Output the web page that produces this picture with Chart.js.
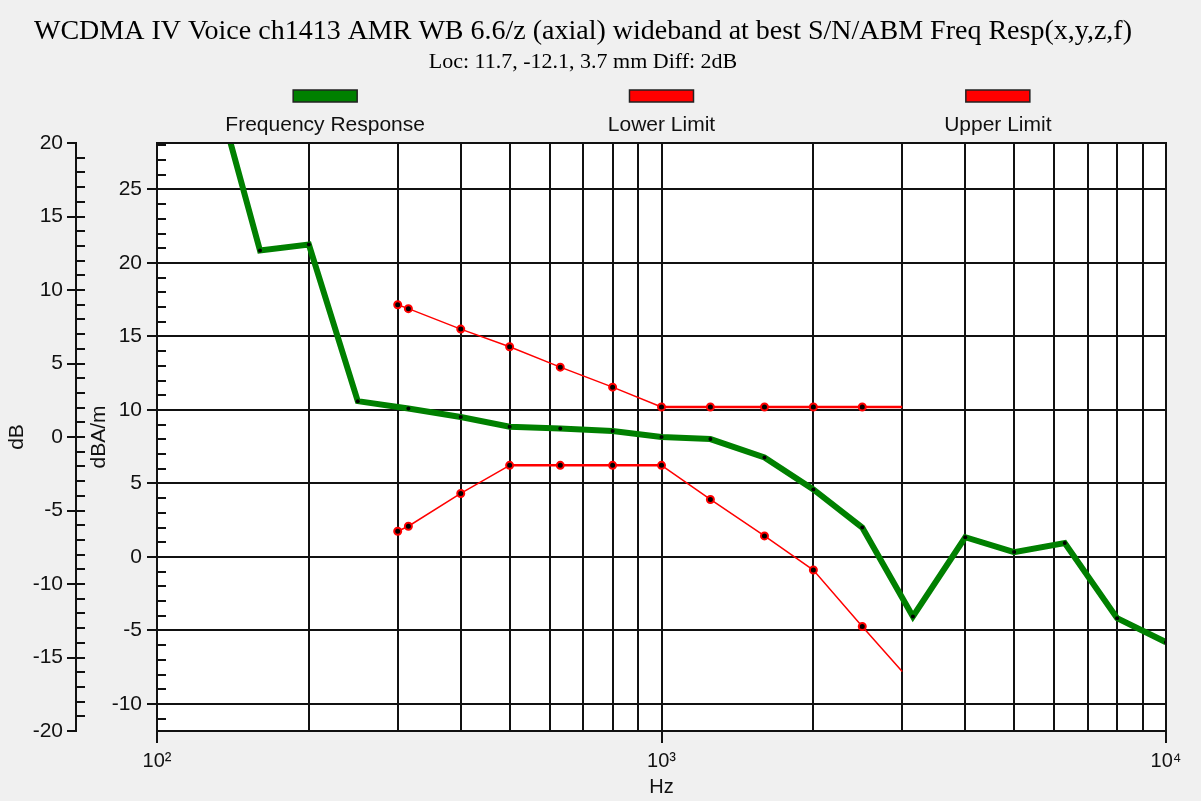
<!DOCTYPE html>
<html>
<head>
<meta charset="utf-8">
<title>WCDMA IV Voice ch1413 - Freq Resp</title>
<script src="https://cdn.jsdelivr.net/npm/chart.js@4.4.1/dist/chart.umd.min.js"></script>
<style>
  html, body { margin: 0; padding: 0; background: #f0f0f0; }
  #wrap { width: 1201px; height: 801px; position: relative; }
</style>
</head>
<body>
<div id="wrap"><canvas id="freqChart"></canvas></div>
<script>
// --- data (values on the dBA/m scale) ---
const responseHz = [125, 160, 200, 250, 315, 400, 500, 630, 800, 1000, 1250, 1600, 2000, 2500, 3150, 4000, 5000, 6300, 8000, 10000];
const responseDb = [34.3, 20.85, 21.25, 10.6, 10.1, 9.52, 8.86, 8.73, 8.57, 8.16, 8.02, 6.77, 4.59, 2.0, -4.05, 1.34, 0.33, 0.95, -4.17, -5.8];

const limitHz = [300, 315, 400, 500, 630, 800, 1000, 1250, 1600, 2000, 2500, 3000];
const lowerLimit = [1.75, 2.09, 4.32, 6.23, 6.23, 6.23, 6.23, 3.91, 1.43, -0.89, -4.73, -7.8];
const upperLimit = [17.16, 16.89, 15.5, 14.3, 12.91, 11.55, 10.2, 10.2, 10.2, 10.2, 10.2, 10.2];

// axis ticks
const xGridHz = [100, 200, 300, 400, 500, 600, 700, 800, 900,
                 1000, 2000, 3000, 4000, 5000, 6000, 7000, 8000, 9000, 10000];
const xMajorHz = [100, 1000, 10000];
const xTickLabels = ['10²', '10³', '10⁴'];
const dbLabels = [-20, -15, -10, -5, 0, 5, 10, 15, 20];
const dbaLabels = [-10, -5, 0, 5, 10, 15, 20, 25];

const TXT = '#111';
const SANS = 'Liberation Sans';
const GRID = '#111';

function toPoints(xs, ys) {
    return xs.map((x, i) => ({ x: x, y: ys[i] }));
}

// steps of 1 between the bounds, labels only on the named list
function unitTicks(scale, from, to) {
    const t = [];
    for (let v = from; v <= to; v++) t.push({ value: v });
    scale.ticks = t;
}

const plotFrame = {
    id: 'plotFrame',
    beforeDraw(chart) {
        const { ctx, chartArea: a } = chart;
        ctx.save();
        ctx.fillStyle = '#fff';
        ctx.fillRect(a.left, a.top, a.right - a.left, a.bottom - a.top);
        ctx.restore();
    },
    afterDraw(chart) {
        const { ctx, chartArea: a, scales } = chart;
        ctx.save();
        ctx.strokeStyle = GRID;
        ctx.lineWidth = 2;
        ctx.strokeRect(a.left, a.top, a.right - a.left, a.bottom - a.top);

        // small ticks on the right side of both vertical axis lines
        ctx.beginPath();
        const outer = scales.yDb;
        for (let v = -19; v <= 19; v++) {
            const y = Math.round(outer.getPixelForValue(v));
            ctx.moveTo(outer.right, y);
            ctx.lineTo(outer.right + 9, y);
        }
        const inner = scales.y;
        for (let v = -11; v <= 28; v++) {
            const y = Math.round(inner.getPixelForValue(v));
            ctx.moveTo(a.left, y);
            ctx.lineTo(a.left + 9, y);
        }
        ctx.stroke();

        // legend: swatch above the label, one third of the plot each
        const w = a.right - a.left;
        chart.data.datasets.forEach((ds, i) => {
            const cx = a.left + w * (2 * i + 1) / 6;
            ctx.fillStyle = ds.borderColor;
            ctx.fillRect(cx - 32, 90, 64, 12);
            ctx.strokeStyle = '#222';
            ctx.lineWidth = 1.5;
            ctx.strokeRect(cx - 32, 90, 64, 12);
            ctx.fillStyle = TXT;
            ctx.font = '21px ' + SANS;
            ctx.textAlign = 'center';
            ctx.textBaseline = 'middle';
            ctx.fillText(ds.label, cx, 125);
        });
        ctx.restore();
    }
};

Chart.defaults.font.family = SANS;
Chart.defaults.color = TXT;

const flatThick = ctx => ctx.p0.parsed.y === ctx.p1.parsed.y ? 2.5 : 1.5;
const limitRadius = limitHz.map((f, i) => i === limitHz.length - 1 ? 0 : 3.5);

new Chart(document.getElementById('freqChart'), {
    type: 'line',
    data: {
        datasets: [
            {
                label: 'Frequency Response',
                data: toPoints(responseHz, responseDb),
                borderColor: '#008000',
                backgroundColor: '#008000',
                borderWidth: 6,
                pointRadius: 2,
                pointBackgroundColor: '#000',
                pointBorderColor: '#000',
                pointBorderWidth: 0
            },
            {
                label: 'Lower Limit',
                data: toPoints(limitHz, lowerLimit),
                borderColor: '#ff0000',
                backgroundColor: '#ff0000',
                borderWidth: 1.5,
                segment: { borderWidth: flatThick },
                pointRadius: limitRadius,
                pointBackgroundColor: '#000',
                pointBorderColor: '#ff0000',
                pointBorderWidth: 2
            },
            {
                label: 'Upper Limit',
                data: toPoints(limitHz, upperLimit),
                borderColor: '#ff0000',
                backgroundColor: '#ff0000',
                borderWidth: 1.5,
                segment: { borderWidth: flatThick },
                pointRadius: limitRadius,
                pointBackgroundColor: '#000',
                pointBorderColor: '#ff0000',
                pointBorderWidth: 2
            }
        ]
    },
    options: {
        responsive: true,
        maintainAspectRatio: false,
        animation: false,
        layout: { padding: { left: 0, right: 35, top: 0, bottom: 0 } },
        elements: { line: { tension: 0 } },
        plugins: {
            legend: { display: false },
            tooltip: { enabled: false },
            title: {
                display: true,
                text: 'WCDMA IV Voice ch1413 AMR WB 6.6/z (axial) wideband at best S/N/ABM Freq Resp(x,y,z,f)',
                font: { family: 'Liberation Serif', size: 28, weight: 'normal' },
                color: '#000',
                padding: { top: 15, bottom: 0 }
            },
            subtitle: {
                display: true,
                text: 'Loc: 11.7, -12.1, 3.7 mm Diff: 2dB',
                font: { family: 'Liberation Serif', size: 22, weight: 'normal' },
                color: '#000',
                padding: { top: 0.2, bottom: 67.8 }
            }
        },
        scales: {
            x: {
                type: 'logarithmic',
                position: 'bottom',
                min: 100,
                max: 10000,
                afterBuildTicks: s => { s.ticks = xGridHz.map(v => ({ value: v })); },
                afterFit: s => { s.height = 70; },
                ticks: {
                    autoSkip: false,
                    maxRotation: 0,
                    padding: 6,
                    font: { size: 20 },
                    callback: v => {
                        const k = xMajorHz.indexOf(v);
                        return k >= 0 ? xTickLabels[k] : '';
                    }
                },
                grid: {
                    color: GRID,
                    lineWidth: 2,
                    tickLength: 12,
                    tickColor: c => xMajorHz.includes(c.tick.value) ? GRID : 'rgba(0,0,0,0)'
                },
                border: { color: GRID, width: 2 },
                title: { display: true, text: 'Hz', font: { size: 20 }, padding: { top: 0, bottom: 2 } }
            },
            y: {
                position: 'left',
                weight: 0,
                min: -11.84,
                max: 28.16,
                afterBuildTicks: s => unitTicks(s, -11, 28),
                afterFit: s => { s.width = 81; },
                ticks: {
                    autoSkip: false,
                    padding: 5,
                    font: { size: 21 },
                    callback: v => dbaLabels.includes(v) ? String(v) : ''
                },
                grid: {
                    color: c => dbaLabels.includes(c.tick.value) ? GRID : 'rgba(0,0,0,0)',
                    lineWidth: 2,
                    tickLength: 10,
                    tickColor: c => dbaLabels.includes(c.tick.value) ? GRID : 'rgba(0,0,0,0)'
                },
                border: { color: GRID, width: 2 },
                title: { display: true, text: 'dBA/m', font: { size: 21 }, padding: { top: 11 } }
            },
            yDb: {
                position: 'left',
                weight: 1,
                min: -20,
                max: 20,
                afterBuildTicks: s => unitTicks(s, -20, 20),
                afterFit: s => { s.width = 76; },
                ticks: {
                    autoSkip: false,
                    padding: 4,
                    font: { size: 21 },
                    callback: v => dbLabels.includes(v) ? String(v) : ''
                },
                grid: {
                    drawOnChartArea: false,
                    lineWidth: 2,
                    tickLength: 9,
                    tickColor: c => dbLabels.includes(c.tick.value) ? GRID : 'rgba(0,0,0,0)'
                },
                border: { color: GRID, width: 2 },
                title: { display: true, text: 'dB', font: { size: 21 }, padding: { top: 5 } }
            }
        }
    },
    plugins: [plotFrame]
});
</script>
</body>
</html>
